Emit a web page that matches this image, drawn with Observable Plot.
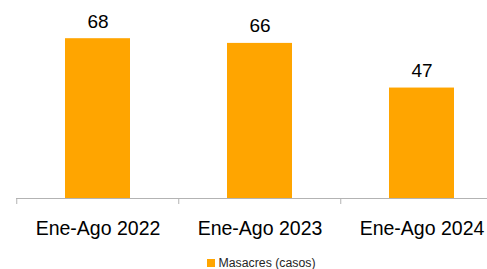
<!DOCTYPE html>
<html>
<head>
<meta charset="utf-8">
<script src="https://cdn.jsdelivr.net/npm/d3@7"></script>
<script src="https://cdn.jsdelivr.net/npm/@observablehq/plot@0.6"></script>
<style>
  body { margin: 0; background: #fff; font-family: "Liberation Sans", Arial, sans-serif; }
  #chart { width: 487px; }
  .legend { display: flex; justify-content: center; align-items: center; height: 19px; font-size: 12.3px; color: #262626; padding-left: 36px; padding-top: 3px; }
  .legend .sw { width: 8px; height: 8px; background: #FFA500; margin-right: 3px; }
</style>
</head>
<body>
<div id="chart"></div>
<script>
const categories = ["Ene-Ago 2022", "Ene-Ago 2023", "Ene-Ago 2024"];
const values = [68, 66, 47];
const seriesName = "Masacres (casos)";
const barColor = "#FFA500";

const data = categories.map((c, i) => ({category: c, value: values[i]}));

const plot = Plot.plot({
  width: 487,
  height: 250,
  marginLeft: 16,
  marginRight: 0,
  marginTop: 10,
  marginBottom: 52,
  style: {fontFamily: "Liberation Sans, Arial, sans-serif", background: "#fff"},
  x: {domain: categories, range: [16, 503.5], paddingInner: 0.6, paddingOuter: 0.3, axis: null},
  y: {domain: [0, 80], range: [198, 10], axis: null},
  marks: [
    Plot.barY(data, {x: "category", y: "value", fill: barColor}),
    Plot.ruleY([0], {stroke: "#b3b3b3", strokeWidth: 1}),
    Plot.ruleX(data, {x: "category", y1: 0, y2: 0, dx: -81.25, insetBottom: -6, stroke: "#b3b3b3"}),
    Plot.text(data, {x: "category", y: "value", text: d => String(d.value), lineAnchor: "bottom", dy: -11, fontSize: 19, fill: "#000"}),
    Plot.axisX({domain: categories, tickSize: 0, tickPadding: 23, fontSize: 19.5, color: "#000", label: null})
  ]
});
document.getElementById("chart").appendChild(plot);
const lg = document.createElement("div");
lg.className = "legend";
lg.innerHTML = `<span class="sw"></span><span>${seriesName}</span>`;
document.getElementById("chart").appendChild(lg);
</script>
</body>
</html>
